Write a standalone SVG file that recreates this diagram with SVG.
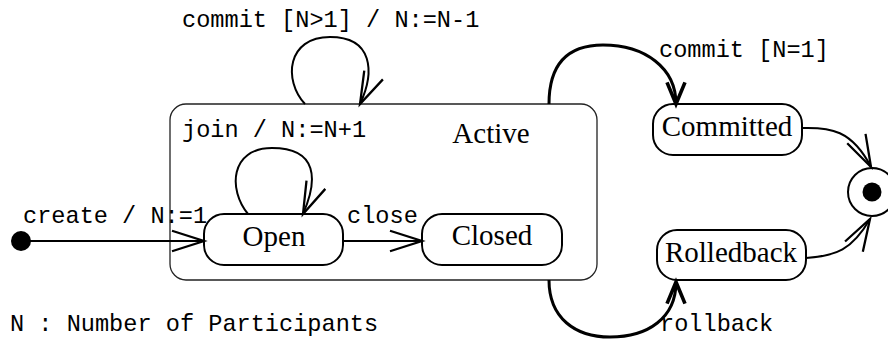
<svg xmlns="http://www.w3.org/2000/svg" width="888" height="339" viewBox="0 0 888 339">
<style>
.mono{font-family:"Liberation Mono","Courier New",monospace;font-size:23.6px;fill:#000}
.serif{font-family:"Liberation Serif","Times New Roman",serif;font-size:29px;fill:#000;text-anchor:middle}
.state{fill:#fff;stroke:#000;stroke-width:2}
.conn{fill:none;stroke:#000;stroke-width:2}
.thick{fill:none;stroke:#000;stroke-width:3}
</style>
<defs>
<marker id="arr" markerUnits="userSpaceOnUse" markerWidth="40" markerHeight="40" viewBox="-30 -15 35 30" refX="0" refY="0" orient="auto" overflow="visible">
<path d="M-28,-9 L0,0 L-28,9" fill="none" stroke="#000" stroke-width="2"/>
</marker>
<marker id="arrS" markerUnits="userSpaceOnUse" markerWidth="30" markerHeight="30" viewBox="-20 -10 25 20" refX="0" refY="0" orient="auto" overflow="visible">
<path d="M-18,-7.5 L0,0 L-18,7.5" fill="none" stroke="#000" stroke-width="3"/>
</marker>
</defs>
<rect width="888" height="339" fill="#fff"/>

<g id="active">
<rect x="170" y="104" width="427" height="176" rx="16" fill="none" stroke="#222" stroke-width="1.3"/>
<text class="serif" x="491" y="143">Active</text>
</g>

<g id="initial">
<circle cx="21" cy="241" r="10" fill="#000"/>
</g>

<g id="open">
<rect class="state" x="204" y="214" width="139" height="51" rx="20"/>
<text class="serif" x="274" y="246">Open</text>
</g>

<g id="closed">
<rect class="state" x="422" y="214" width="140" height="51" rx="20"/>
<text class="serif" x="492" y="245">Closed</text>
</g>

<g id="committed">
<rect class="state" x="653" y="104" width="149" height="51" rx="20"/>
<text class="serif" x="727" y="136">Committed</text>
</g>

<g id="rolledback">
<rect class="state" x="657" y="230" width="149" height="50" rx="20"/>
<text class="serif" x="731" y="262">Rolledback</text>
</g>

<g id="final">
<circle cx="872" cy="192" r="24" fill="#fff" stroke="#000" stroke-width="2"/>
<circle cx="872" cy="192" r="9.5" fill="#000"/>
</g>

<g id="connectors">
<path class="conn" d="M21,241 L204,241" marker-end="url(#arr)"/>
<path class="conn" d="M343,241 L422,241" marker-end="url(#arr)"/>
<path class="conn" d="M305,104 C283,80 287,37 330,37 C373,37 375,72 360,104" marker-end="url(#arr)"/>
<path class="conn" d="M248,214 C228,190 230,148 272,148 C318,148 318,180 303,214" marker-end="url(#arr)"/>
<path class="thick" d="M549,104 C549,62 570,45 603,45 C645,45 676,68 676,104" marker-end="url(#arrS)"/>
<path class="thick" d="M549,280 C549,318 575,337 610,337 C648,337 676,318 676,282" marker-end="url(#arrS)"/>
<path class="conn" d="M802,128 C830,127 852,130 871,167" marker-end="url(#arr)"/>
<path class="conn" d="M806,258 C836,256 852,250 870,219" marker-end="url(#arr)"/>
</g>

<g id="labels">
<text class="mono" x="182" y="27">commit [N&gt;1] / N:=N-1</text>
<text class="mono" x="182" y="137">join / N:=N+1</text>
<text class="mono" x="23" y="223">create / N:=1</text>
<text class="mono" x="347" y="223">close</text>
<text class="mono" x="659" y="57">commit [N=1]</text>
<text class="mono" x="660" y="331">rollback</text>
<text class="mono" x="10" y="331">N : Number of Participants</text>
</g>
</svg>
